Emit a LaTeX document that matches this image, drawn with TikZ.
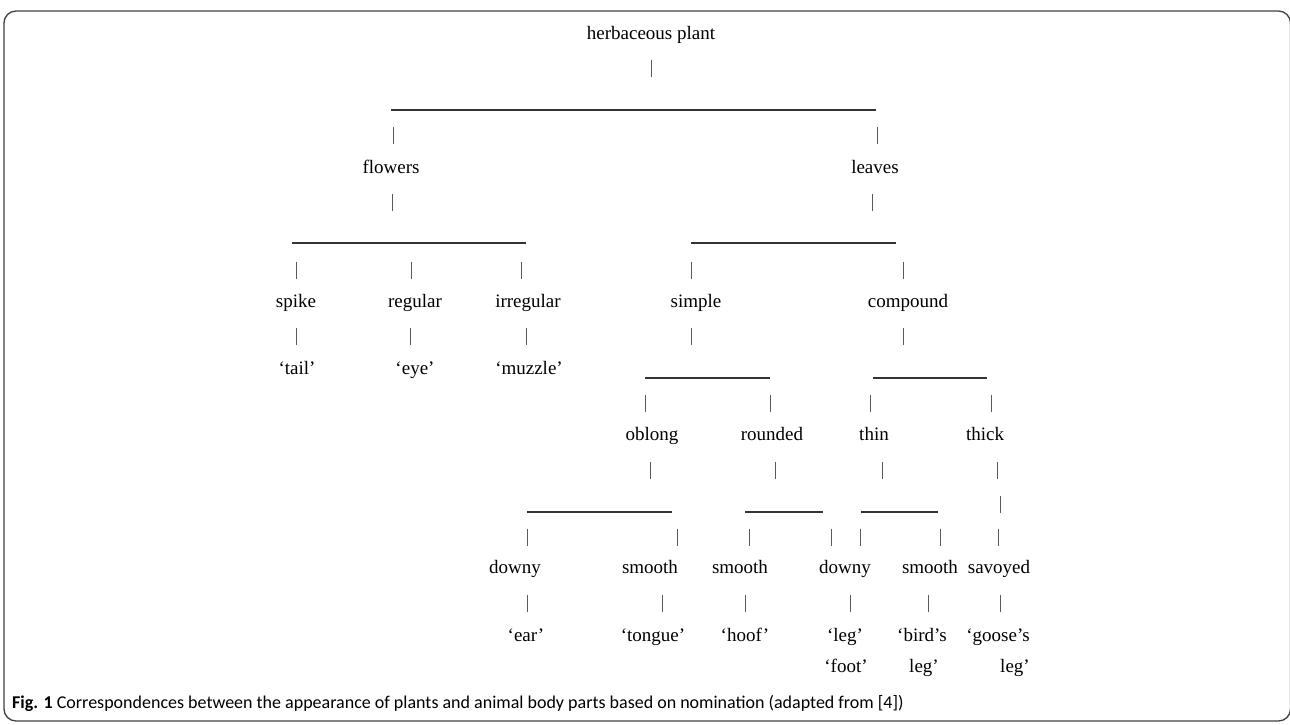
\documentclass[tikz,border=0pt]{standalone}
\usepackage{fontspec}
\setmainfont{Liberation Serif}
\newfontfamily\capfont{Carlito}
\newcommand\tvb[2]{\draw[vb] (#1,#2-8.5) -- (#1,#2+8.5);}
\begin{document}
\begin{tikzpicture}[x=1pt,y=-1pt,
  lab/.style={inner sep=0pt, font=\fontsize{19}{21}\selectfont, text height=13pt, text depth=4pt, anchor=center},
  vb/.style={draw=black!65, line width=0.7pt},
  hl/.style={draw=black!80, line width=1.1pt},
  frame/.style={draw=black!75, line width=1.3pt, rounded corners=12pt}]
\useasboundingbox (0,0) rectangle (1290,724);
\draw[frame] (4,11) rectangle (1290.5,721);
% labels
\node[lab] (hp) at (651,35) {herbaceous plant};
\node[lab] (fl) at (391,169) {flowers};
\node[lab] (lv) at (875,169) {leaves};
\node[lab] (sp) at (296,303) {spike};
\node[lab] (rg) at (415,303) {regular};
\node[lab] (ir) at (528,303) {irregular};
\node[lab] (si) at (696,303) {simple};
\node[lab] (co) at (908,303) {compound};
\node[lab] (ta) at (297,370) {‘tail’};
\node[lab] (ey) at (415,370) {‘eye’};
\node[lab] (mu) at (529,370) {‘muzzle’};
\node[lab] (ob) at (652,436) {oblong};
\node[lab] (ro) at (772,436) {rounded};
\node[lab] (th) at (874,436) {thin};
\node[lab] (tk) at (985,436) {thick};
\node[lab] (d1) at (515,569) {downy};
\node[lab] (s1) at (650,569) {smooth};
\node[lab] (s2) at (740,569) {smooth};
\node[lab] (d2) at (845,569) {downy};
\node[lab] (s3) at (930,569) {smooth};
\node[lab] (sv) at (999,569) {savoyed};
\node[lab] (ea) at (526,637) {‘ear’};
\node[lab] (to) at (653,637) {‘tongue’};
\node[lab] (ho) at (745,637) {‘hoof’};
\node[lab] (le) at (845,637) {‘leg’};
\node[lab] (bi) at (922,637) {‘bird’s};
\node[lab] (go) at (998,637) {‘goose’s};
\node[lab] (fo) at (846,668) {‘foot’};
\node[lab] (bl) at (924,668) {leg’};
\node[lab] (gl) at (1015,668) {leg’};
\node[anchor=west, inner sep=0pt, font=\capfont\fontsize{18}{20}\selectfont] (cap) at (12,703)
  {\textbf{Fig. 1} Correspondences between the appearance of plants and animal body parts based on nomination (adapted from [4])};
% vertical bars
\tvb{651}{68}
\tvb{393}{135}\tvb{877}{135}
\tvb{392}{202}\tvb{872}{202}
\tvb{296}{270}\tvb{411}{270}\tvb{521}{270}\tvb{691}{270}\tvb{903}{270}
\tvb{296}{336}\tvb{410}{336}\tvb{526}{336}\tvb{691}{336}\tvb{903}{336}
\tvb{645}{403}\tvb{770}{403}\tvb{870}{403}\tvb{991}{403}
\tvb{650}{470}\tvb{775}{470}\tvb{882}{470}\tvb{997}{470}
\tvb{1000}{504}
\tvb{527}{537}\tvb{677}{537}\tvb{749}{537}\tvb{831}{537}\tvb{860}{537}\tvb{940}{537}\tvb{998}{537}
\tvb{527}{603}\tvb{662}{603}\tvb{745}{603}\tvb{850}{603}\tvb{928}{603}\tvb{1000}{603}
% horizontal lines
\draw[hl] (391,110) -- (876,110);
\draw[hl] (292,243) -- (526,243);
\draw[hl] (691,243) -- (896,243);
\draw[hl] (645,378) -- (770,378);
\draw[hl] (873,378) -- (987,378);
\draw[hl] (527,512) -- (672,512);
\draw[hl] (745,512) -- (823,512);
\draw[hl] (861,512) -- (938,512);
\end{tikzpicture}
\end{document}
